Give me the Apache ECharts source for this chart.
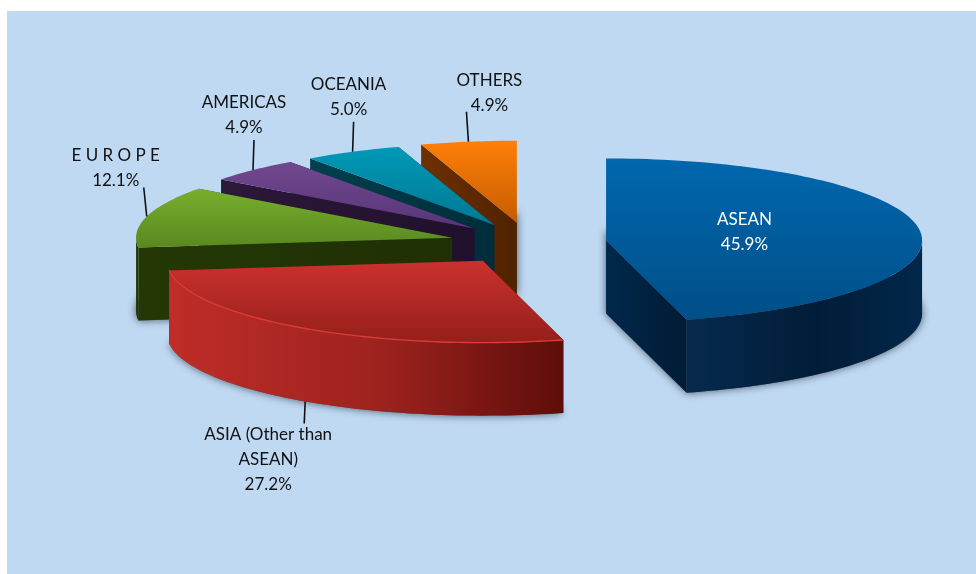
<!DOCTYPE html>
<html>
<head>
<meta charset="utf-8">
<style>html,body{margin:0;padding:0;background:#fff}#chart{width:976px;height:574px}</style>
<script src="https://cdn.jsdelivr.net/npm/echarts@6/dist/echarts.min.js"></script>
</head>
<body>
<div id="chart"></div>
<script>
// ---- data ----
const categories = ['ASEAN', 'ASIA (Other than\nASEAN)', 'E U R O P E', 'AMERICAS', 'OCEANIA', 'OTHERS'];
const shares = [45.9, 27.2, 12.1, 4.9, 5.0, 4.9];

// ---- pie projection and explosion ----
const pieCentre = [529, 243];
const radiusX = 316, radiusY = 82, depth = 73;
const explode = [0.246, 0.26, 0.252, 0.247, 0.245, 0.25];

// ---- styles ----
const topColours = [['#0067AE', '#004F88'], ['#CB312D', '#951F1A'], ['#78AF2E', '#5A881F'], ['#71488F', '#573578'], ['#0099B8', '#007892'], ['#FF7F08', '#C55C00']];
const sideColours = [['#062A4E', '#011C38', '#02274A'], ['#BF2D28', '#9C221E', '#5E0D09'], ['#233606', '#233606', '#233606'], ['#2A1638', '#2A1638', '#2A1638'], ['#003747', '#003747', '#003747'], ['#54270A', '#54270A', '#54270A']];
const cutColours = [['#00284B', '#001B35'], ['#620F0B', '#620F0B'], ['#243806', '#1F3004'], ['#2C1839', '#20102C'], ['#00404F', '#002C3A'], ['#6E3000', '#502200']];
// label placement, relative to the rim point at each slice's mid-angle: leader tip and text-block centre
const leaderOffsets = [null, [-1, 22], [-3, -29], [1, -30], [1, -30], [-2, -30]];
const textOffsets = [[-175, 2], [-37, 58.5], [-31, -48.5], [-9, -55], [-4, -54.5], [21, -49]];

const total = shares.reduce((a, b) => a + b, 0);
const starts = [];
shares.reduce((sum, v, i) => { starts[i] = sum; return sum + v; }, 0);
const rad = d => d * Math.PI / 180;

function renderSlice(params, api) {
  const i = params.dataIndex;
  const a0 = starts[i] / total * 360;
  const a1 = (starts[i] + api.value(0)) / total * 360;
  const mid = (a0 + a1) / 2;
  const m = rad(mid);
  const ax = pieCentre[0] + explode[i] * radiusX * Math.sin(m);
  const ay = pieCentre[1] - explode[i] * radiusY * Math.cos(m);
  const rim = (deg, drop) => [ax + radiusX * Math.sin(rad(deg)), ay - radiusY * Math.cos(rad(deg)) + (drop || 0)];
  const arc = (from, to, drop) => {
    const pts = [], n = Math.max(2, Math.ceil(Math.abs(to - from) / 1.5));
    for (let k = 0; k <= n; k++) pts.push(rim(from + (to - from) * k / n, drop));
    return pts;
  };
  const base = (n) => 10 * (shares.length - i) + n;
  const apex = [ax, ay], apexLow = [ax, ay + depth];
  const vGrad = c => new echarts.graphic.LinearGradient(0, 0, 0, 1, [{offset: 0, color: c[0]}, {offset: 1, color: c[1]}]);
  const hGrad = c => new echarts.graphic.LinearGradient(0, 0, 1, 0, [{offset: 0, color: c[0]}, {offset: 0.55, color: c[1]}, {offset: 1, color: c[2]}]);
  const kids = [];
  // soft shadow under the base
  kids.push({type: 'polygon', z2: base(0), shape: {points: [apexLow].concat(arc(a0, a1, depth))},
    style: {fill: '#55606c', shadowBlur: 9, shadowColor: 'rgba(30,40,50,0.75)'}});
  // radial cut faces
  [a1, a0].forEach((a, k) => {
    const e = rim(a), l = rim(a, depth);
    kids.push({type: 'polygon', z2: base(1 + k), shape: {points: [apex, e, l, apexLow]},
      style: {fill: new echarts.graphic.LinearGradient(0, 0, 1, 0, [{offset: 0, color: cutColours[i][0]}, {offset: 1, color: cutColours[i][1]}])}});
  });
  // outer wall, front half only
  const w0 = Math.max(a0, 90), w1 = Math.min(a1, 270);
  if (w1 > w0) {
    const topEdge = arc(w0, w1), lowEdge = arc(w1, w0, depth);
    kids.push({type: 'polygon', z2: base(3), shape: {points: topEdge.concat(lowEdge)}, style: {fill: hGrad(sideColours[i])}});
  }
  // top face
  kids.push({type: 'polygon', z2: base(4), shape: {points: [apex].concat(arc(a0, a1))}, style: {fill: vGrad(topColours[i])}});
  if (i === 1) {
    kids.push({type: 'polyline', z2: base(5), shape: {points: arc(a0, a1)}, style: {stroke: '#D83C34', lineWidth: 1.4, fill: null}});
  }
  // leader and label
  const anchor = rim(mid, mid > 90 && mid < 270 ? depth : 0);
  if (leaderOffsets[i]) {
    kids.push({type: 'line', z2: 900, shape: {x1: anchor[0], y1: anchor[1], x2: anchor[0] + leaderOffsets[i][0], y2: anchor[1] + leaderOffsets[i][1]},
      style: {stroke: '#111', lineWidth: 1.6}});
  }
  kids.push({type: 'text', z2: 1000, style: {
    text: categories[i] + '\n' + api.value(0).toFixed(1) + '%',
    x: anchor[0] + textOffsets[i][0], y: anchor[1] + textOffsets[i][1],
    align: 'center', verticalAlign: 'middle', fontFamily: 'Lato', fontSize: 17, lineHeight: 25,
    fill: i === 0 ? '#FFFFFF' : '#111111'}});
  return {type: 'group', children: kids};
}

const chart = echarts.init(document.getElementById('chart'), null, {renderer: 'canvas'});
chart.setOption({
  backgroundColor: '#FFFFFF',
  animation: false,
  graphic: {elements: [{type: 'rect', silent: true, z: -10, shape: {x: 7, y: 11, width: 969, height: 563}, style: {fill: '#BFD9F3'}}]},
  series: [{
    type: 'custom',
    coordinateSystem: 'none',
    silent: true,
    renderItem: renderSlice,
    data: shares.map(v => [v])
  }]
});
</script>
</body>
</html>
